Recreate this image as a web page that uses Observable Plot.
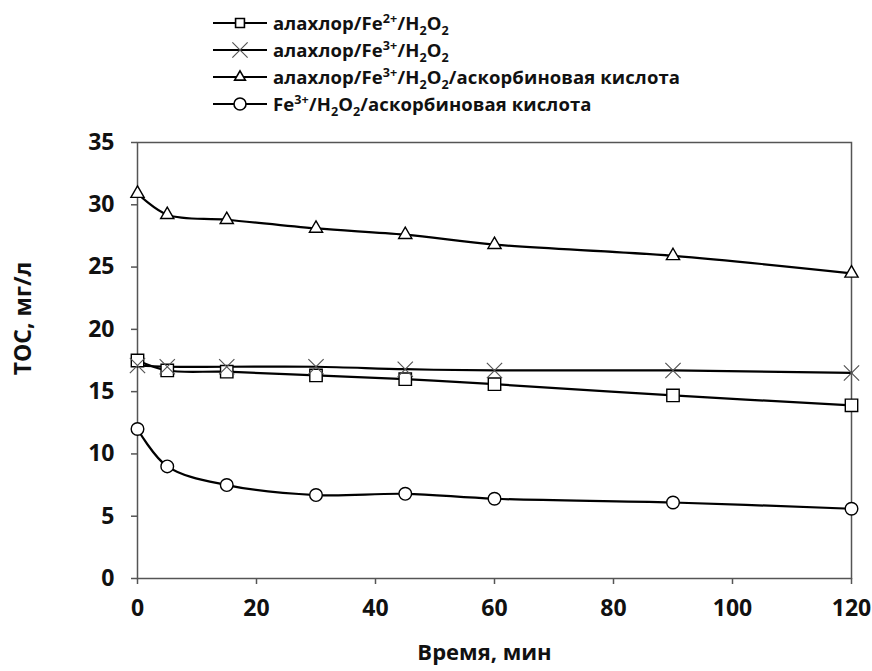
<!DOCTYPE html>
<html>
<head>
<meta charset="utf-8">
<script src="https://cdn.jsdelivr.net/npm/d3@7"></script>
<script src="https://cdn.jsdelivr.net/npm/@observablehq/plot@0.6"></script>
<style>
  html, body { margin: 0; padding: 0; background: #fff; }
  #wrap { position: relative; width: 872px; height: 671px; font-family: "Open Sans", "Noto Sans", sans-serif; }
  #legend { position: absolute; left: 211px; top: 9px; }
  .row { display: flex; align-items: center; height: 27px; font-weight: 700; font-size: 18.5px; color: #111; letter-spacing: 0.1px; }
  .row svg { margin-right: 4px; }
  sup, sub { font-size: 0.68em; line-height: 0; }
</style>
</head>
<body>
<div id="wrap"><div id="legend"></div></div>
<script>
const time = [0, 5, 15, 30, 45, 60, 90, 120];
const seriesNames = ["fe2", "fe3", "fe3asc", "blank"];
const seriesLabels = [
  "алахлор/Fe<sup>2+</sup>/H<sub>2</sub>O<sub>2</sub>",
  "алахлор/Fe<sup>3+</sup>/H<sub>2</sub>O<sub>2</sub>",
  "алахлор/Fe<sup>3+</sup>/H<sub>2</sub>O<sub>2</sub>/аскорбиновая кислота",
  "Fe<sup>3+</sup>/H<sub>2</sub>O<sub>2</sub>/аскорбиновая кислота"
];
const seriesSymbols = ["square", "times", "triangle", "circle"];
const tocFe2 = [17.5, 16.7, 16.6, 16.3, 16.0, 15.6, 14.7, 13.9];
const tocFe3 = [17.1, 17.0, 17.0, 17.0, 16.8, 16.7, 16.7, 16.5];
const tocFe3Asc = [30.9, 29.2, 28.8, 28.1, 27.6, 26.8, 25.9, 24.5];
const tocBlank = [12.0, 9.0, 7.5, 6.7, 6.8, 6.4, 6.1, 5.6];
const xTicks = [0, 20, 40, 60, 80, 100, 120];
const yTicks = [0, 5, 10, 15, 20, 25, 30, 35];
const xLabel = "Время, мин";
const yLabel = "TOC, мг/л";

const valuesBySeries = [tocFe2, tocFe3, tocFe3Asc, tocBlank];
const data = [];
seriesNames.forEach((s, i) => time.forEach((t, j) => data.push({series: s, symbol: seriesSymbols[i], t, v: valuesBySeries[i][j]})));

const font = "'Open Sans', 'Noto Sans', sans-serif";
const rBy = {square: 7, times: 7, triangle: 4.9, circle: 6.3};
const rLegend = {square: 5, times: 7, triangle: 4, circle: 6};

const chart = Plot.plot({
  width: 872, height: 671,
  marginLeft: 137, marginRight: 21, marginTop: 142, marginBottom: 93,
  style: {fontFamily: font, background: "transparent", color: "#111"},
  x: {domain: [0, 120]},
  y: {domain: [0, 35]},
  marks: [
    Plot.frame({stroke: "#555", strokeWidth: 1.5}),
    Plot.axisY({ticks: yTicks, tickSize: 6, tickPadding: 17, label: null, fontSize: 23, fontWeight: 700, stroke: "#555", strokeWidth: 1.5}),
    Plot.axisX({ticks: xTicks, tickSize: 6, tickPadding: 15, label: null, fontSize: 23, fontWeight: 700, stroke: "#555", strokeWidth: 1.5}),
    Plot.text([yLabel], {frameAnchor: "left", textAnchor: "middle", dx: -114, dy: -42, rotate: -90, fontSize: 23, fontWeight: 700, fill: "#111"}),
    Plot.text([xLabel], {frameAnchor: "bottom", dx: -10, dy: 81, fontSize: 22, fontWeight: 700, fill: "#111"}),
    Plot.line(data, {x: "t", y: "v", z: "series", curve: "catmull-rom", stroke: "#000", strokeWidth: 2.2}),
    ...seriesSymbols.map((sym, i) => Plot.dot(data.filter(d => d.series === seriesNames[i]), {
      x: "t", y: "v", symbol: () => sym, r: rBy[sym],
      fill: sym === "times" ? "none" : "#fff",
      stroke: sym === "times" ? "#555" : "#000",
      strokeWidth: sym === "times" ? 1.2 : 1.4
    }))
  ]
});
document.getElementById("wrap").appendChild(chart);

// legend
const legend = d3.select("#legend");
seriesNames.forEach((s, i) => {
  const row = legend.append("div").attr("class", "row");
  const svg = row.append("svg").attr("width", 58).attr("height", 20);
  svg.append("line").attr("x1", 2).attr("x2", 56).attr("y1", 10).attr("y2", 10).attr("stroke", "#000").attr("stroke-width", 2);
  const sym = seriesSymbols[i];
  const d3sym = {square: d3.symbolSquare, times: d3.symbolTimes, triangle: d3.symbolTriangle, circle: d3.symbolCircle}[sym];
  svg.append("path").attr("transform", "translate(29,10)")
    .attr("d", d3.symbol(d3sym, Math.PI * rLegend[sym] * rLegend[sym])())
    .attr("fill", sym === "times" ? "none" : "#fff")
    .attr("stroke", sym === "times" ? "#555" : "#000")
    .attr("stroke-width", sym === "times" ? 1.2 : 1.6);
  row.append("span").html(seriesLabels[i]);
});
</script>
</body>
</html>
